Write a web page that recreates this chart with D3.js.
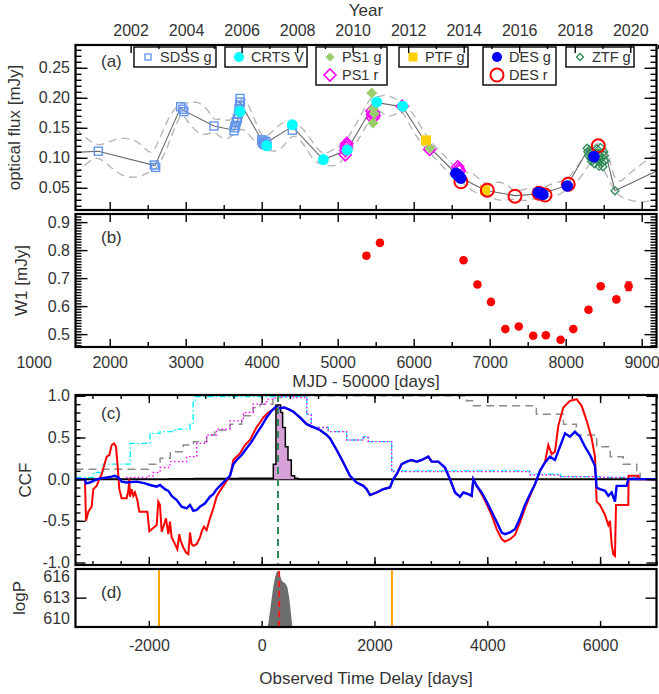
<!DOCTYPE html>
<html>
<head>
<meta charset="utf-8">
<script src="https://cdn.jsdelivr.net/npm/d3@7"></script>
<style>
  body { margin: 0; background: #fff; }
  svg { display: block; }
</style>
</head>
<body>
<svg id="chart" width="659" height="694"></svg>
<script>
// ---------------- data ----------------
// optical light curve, [MJD-50000, flux mJy]
const sdssG = [[1850,0.111],[2587,0.088],[2605,0.084],[2934,0.185],[2962,0.181],[2975,0.177],[3372,0.153],
  [3635,0.145],[3645,0.150],[3655,0.154],[3668,0.160],[3680,0.165],[3695,0.173],[3702,0.182],[3710,0.188],
  [3720,0.193],[3715,0.199],[4000,0.130],[4010,0.126],[4021,0.124],[4030,0.128],[4040,0.122],[4055,0.127],
  [4070,0.121],[4403,0.146]];
const crtsV = [[3715,0.177],[4065,0.120],[4403,0.155],[4811,0.097],[5125,0.113],[5513,0.193],[5855,0.186]];
const ps1G = [[5447,0.208],[5470,0.182],[5480,0.174],[5465,0.158],[5855,0.184],[6214,0.116]];
const ps1R = [[5100,0.105],[5105,0.112],[5110,0.117],[5115,0.121],[5120,0.124],[5450,0.178],[5458,0.172],
  [5462,0.166],[5472,0.175],[5482,0.170],[5850,0.186],[6210,0.114],[6580,0.085],[6590,0.081],[6600,0.078]];
const ptfG = [[6162,0.129],[6938,0.046]];
const desG = [[6555,0.074],[6580,0.071],[6600,0.069],[6620,0.066],[7640,0.042],[7670,0.041],[7700,0.039],
  [8021,0.053],[8372,0.102]];
const desR = [[6622,0.060],[6969,0.046],[7333,0.036],[7650,0.041],[7728,0.038],[8034,0.056],[8429,0.120]];
const ztfG = [[8282,0.116],[8290,0.110],[8300,0.104],[8310,0.113],[8320,0.107],[8330,0.099],[8340,0.094],
  [8350,0.111],[8360,0.103],[8370,0.097],[8380,0.090],[8395,0.108],[8410,0.115],[8420,0.100],[8430,0.094],
  [8440,0.086],[8450,0.104],[8460,0.117],[8470,0.099],[8480,0.092],[8490,0.085],[8500,0.110],[8510,0.104],
  [8520,0.095],[8649,0.045]];

// mean model and its +/- 1 sigma envelope
const modelMean = [[1550,0.109],[1850,0.111],[2596,0.087],[2934,0.184],[2970,0.179],[3372,0.153],[3635,0.146],
  [3690,0.165],[3715,0.192],[4030,0.123],[4403,0.152],[4811,0.097],[5125,0.113],[5480,0.190],[5513,0.192],
  [5855,0.185],[6180,0.121],[6600,0.068],[6938,0.046],[7333,0.037],[7680,0.040],[8021,0.054],[8300,0.115],
  [8520,0.110],[8649,0.045],[9195,0.078]];
const modelUpper = [[1550,0.148],[1700,0.132],[1850,0.118],[2000,0.128],[2200,0.135],[2400,0.127],[2550,0.100],
  [2650,0.130],[2800,0.175],[2934,0.192],[3000,0.190],[3150,0.196],[3300,0.180],[3372,0.160],[3500,0.168],
  [3600,0.155],[3715,0.203],[3800,0.198],[3950,0.150],[4021,0.130],[4150,0.145],[4300,0.163],[4403,0.160],
  [4550,0.150],[4700,0.120],[4811,0.103],[4950,0.115],[5110,0.125],[5300,0.170],[5447,0.205],[5520,0.200],
  [5650,0.207],[5800,0.195],[5855,0.190],[6000,0.175],[6162,0.135],[6350,0.110],[6550,0.085],[6650,0.075],
  [6800,0.076],[6938,0.052],[7100,0.062],[7250,0.055],[7333,0.040],[7500,0.052],[7640,0.045],[7850,0.060],
  [8021,0.060],[8200,0.095],[8350,0.122],[8450,0.125],[8550,0.120],[8649,0.050],[8800,0.070],[9000,0.090],
  [9195,0.107]];
const modelLower = [[1550,0.072],[1700,0.092],[1850,0.104],[2000,0.085],[2200,0.066],[2400,0.068],[2550,0.078],
  [2650,0.085],[2800,0.130],[2934,0.178],[3000,0.165],[3150,0.140],[3300,0.138],[3372,0.146],[3500,0.128],
  [3600,0.135],[3715,0.150],[3800,0.145],[3950,0.120],[4021,0.117],[4150,0.108],[4300,0.118],[4403,0.143],
  [4550,0.125],[4700,0.090],[4811,0.090],[4950,0.083],[5110,0.100],[5300,0.135],[5447,0.170],[5520,0.185],
  [5650,0.165],[5800,0.175],[5855,0.180],[6000,0.140],[6162,0.115],[6350,0.090],[6550,0.062],[6650,0.060],
  [6800,0.040],[6938,0.040],[7100,0.028],[7250,0.030],[7333,0.032],[7500,0.026],[7640,0.036],[7850,0.033],
  [8021,0.047],[8200,0.065],[8350,0.100],[8450,0.090],[8550,0.070],[8649,0.040],[8800,0.030],[9000,0.025],
  [9195,0.030]];

// WISE W1 photometry
const w1Mjd = [5378,5556,6656,6839,7017,7206,7383,7572,7739,7933,8100,8300,8461,8667,8828];
const w1Flux = [0.780,0.826,0.764,0.677,0.615,0.518,0.527,0.494,0.496,0.480,0.518,0.587,0.671,0.624,0.671];
const w1Err = [0.009,0.009,0.008,0.008,0.009,0.008,0.008,0.008,0.007,0.007,0.008,0.009,0.009,0.009,0.015];

// cross-correlation functions, [lag days, CCF]
const blueLeft = [[-3300,0],[-3132,0],[-3114,-0.05],[-3043,-0.04],[-2984,-0.02],[-2866,0.01],[-2747,0.02],
  [-2659,0.03],[-2600,0.04],[-2541,0.02],[-2482,-0.03],[-2393,-0.04],[-2216,-0.03],[-2068,-0.05],[-1979,-0.07],
  [-1861,-0.09],[-1802,-0.07],[-1713,-0.12],[-1654,-0.14],[-1595,-0.20],[-1506,-0.25],[-1418,-0.33],
  [-1329,-0.35],[-1270,-0.31],[-1211,-0.38],[-1152,-0.37],[-1093,-0.33],[-1004,-0.29],[-916,-0.21],
  [-857,-0.18],[-798,-0.12],[-709,-0.06],[-620,0],[-561,0.04],[-502,0.18],[-443,0.23],[-354,0.29],
  [-266,0.37],[-177,0.45],[-88,0.55],[0,0.64],[89,0.74],[177,0.82],[254,0.87]];
const redLeft = [[-3300,0],[-3132,0],[-3114,-0.50],[-3072,-0.39],[-3013,-0.33],[-2984,-0.12],[-2925,-0.08],
  [-2878,0],[-2836,0.06],[-2777,0.20],[-2747,0.27],[-2700,0.29],[-2659,0.41],[-2617,0.43],[-2582,0.39],
  [-2558,0.20],[-2523,-0.12],[-2482,-0.23],[-2393,-0.23],[-2363,-0.14],[-2346,0],[-2334,-0.21],[-2304,-0.12],
  [-2275,-0.20],[-2245,-0.16],[-2204,-0.25],[-2168,-0.39],[-2026,-0.39],[-1991,-0.625],[-1950,-0.60],
  [-1861,-0.55],[-1832,-0.27],[-1802,-0.31],[-1772,-0.63],[-1731,-0.55],[-1696,-0.47],[-1654,-0.66],
  [-1625,-0.51],[-1595,-0.70],[-1536,-0.78],[-1495,-0.84],[-1459,-0.66],[-1436,-0.74],[-1388,-0.82],
  [-1341,-0.88],[-1300,-0.90],[-1270,-0.64],[-1241,-0.78],[-1211,-0.80],[-1152,-0.78],[-1093,-0.70],
  [-1063,-0.63],[-1022,-0.57],[-975,-0.61],[-916,-0.47],[-857,-0.35],[-798,-0.21],[-738,-0.14],[-679,-0.08],
  [-620,-0.02],[-561,0.04],[-502,0.23],[-472,0.25],[-384,0.31],[-295,0.41],[-207,0.47],[-147,0.55],
  [-88,0.625],[-29,0.68],[30,0.74],[118,0.80],[207,0.84],[266,0.86]];
const ccfMid = [[325,0.85],[396,0.86],[473,0.84],[562,0.81],[680,0.74],[798,0.66],[916,0.625],[1034,0.59],
  [1153,0.53],[1212,0.49],[1330,0.35],[1448,0.20],[1566,0.04],[1684,-0.04],[1803,-0.08],[1862,-0.12],
  [1921,-0.19],[2039,-0.16],[2157,-0.12],[2275,-0.10],[2334,0],[2394,0.06],[2482,0.18],[2571,0.21],
  [2659,0.23],[2748,0.21],[2837,0.23],[2955,0.27],[3014,0.21],[3132,0.21],[3250,0.14],[3339,0],
  [3428,-0.16],[3516,-0.21],[3575,-0.16],[3664,-0.18],[3723,-0.20],[3753,0]];
const blueRight = [[3812,-0.08],[3900,-0.16],[3989,-0.27],[4078,-0.39],[4166,-0.51],[4255,-0.64],[4314,-0.66],
  [4403,-0.64],[4491,-0.60],[4580,-0.47],[4668,-0.31],[4757,-0.18],[4846,-0.06],[4934,0.10],[5023,0.20],
  [5112,0.27],[5200,0.23],[5289,0.39],[5378,0.55],[5466,0.51],[5555,0.57],[5644,0.51],[5732,0.39],
  [5821,0.29],[5909,0.16],[5939,-0.10],[5998,-0.12],[6087,-0.14],[6146,-0.20],[6205,-0.16],[6264,-0.27],
  [6293,-0.08],[6471,-0.08],[6500,0],[7000,0]];
const redRight = [[3812,-0.08],[3900,-0.18],[3989,-0.30],[4078,-0.43],[4166,-0.60],[4255,-0.72],[4314,-0.75],
  [4403,-0.72],[4491,-0.67],[4580,-0.52],[4668,-0.35],[4757,-0.20],[4846,-0.06],[4934,0.10],[5023,0.20],
  [5082,0.41],[5141,0.30],[5200,0.33],[5259,0.64],[5348,0.86],[5466,0.94],[5584,0.96],[5673,0.88],
  [5762,0.70],[5850,0.49],[5909,0.27],[5939,-0.27],[5998,-0.31],[6087,-0.43],[6146,-0.55],[6175,-0.50],
  [6205,-0.78],[6234,-0.90],[6264,-0.92],[6282,-0.31],[6500,-0.31],[6506,0.04],[6678,0.04],[6684,0],[7000,0]];

// normalised overlap counts (step curves)
const pairsGray = [[-3300,0.12],[-2010,0.18],[-1800,0.25],[-1620,0.33],[-1390,0.41],[-1210,0.45],[-975,0.53],
  [-830,0.59],[-560,0.66],[-355,0.76],[-150,0.86],[-30,0.90],[200,0.98],[350,1.0],[3630,0.94],[3750,0.88],
  [4870,0.78],[5350,0.66],[5580,0.53],[5940,0.39],[6180,0.27],[6410,0.18],[6650,0.08],[6710,0],[7000,0]];
const pairsCyan = [[-3300,0.02],[-2984,0.08],[-2806,0.18],[-2330,0.43],[-1979,0.55],[-1802,0.57],[-1536,0.60],
  [-1270,0.66],[-1215,0.94],[-1182,0.99],[770,0.98],[798,0.78],[880,0.62],[1182,0.57],[1507,0.47],[1800,0.51],
  [1891,0.45],[2305,0.10],[3500,0.10],[4750,0.06],[5300,0.03],[6000,0.02],[6700,0],[7000,0]];
const pairsMagenta = [[-3300,0],[-2390,0.02],[-2040,0.04],[-1920,0.08],[-1800,0.14],[-1625,0.21],[-1330,0.27],
  [-1150,0.43],[-975,0.53],[-800,0.60],[-560,0.70],[-325,0.80],[-150,0.90],[90,0.96],[236,0.99],[560,0.98],
  [790,0.96],[800,0.78],[880,0.62],[1182,0.57],[1507,0.47],[1800,0.50],[1891,0.45],[2305,0.09],[3500,0.09],
  [4750,0.05],[5300,0.03],[6000,0.02],[6700,0],[7000,0]];

// lag distribution histogram
const histEdges = [-1650,-1200,-800,-400,0,207,254,337,372,420,467,526,585,640];
const histValues = [0.006,0.008,0.008,0.010,0.012,0.18,0.89,0.80,0.62,0.39,0.23,0.04,0.01];
const bestLag = 290;

// posterior log-probability envelope
const logPLag = [110,140,170,200,230,255,285,310,340,370,410,450,480,510,545];
const logPVal = [608.8,610.5,612.4,614.2,615.6,616.4,616.8,616.6,615.8,615.3,615.1,614.6,613.4,611.5,608.8];
const logPMedian = 310;
const priorBounds = [-1820, 2310];

// axis ticks
const fluxTicks = [0.05,0.10,0.15,0.20,0.25];
const w1Ticks = [0.5,0.6,0.7,0.8,0.9];
const ccfTicks = [-1.0,-0.5,0.0,0.5,1.0];
const logPTicks = [610,613,616];
const yearTicks = [2002,2004,2006,2008,2010,2012,2014,2016,2018,2020];
const mjdTicks = [1000,2000,3000,4000,5000,6000,7000,8000,9000];
const lagTicks = [-2000,0,2000,4000,6000];

// ---------------- layout ----------------
const X0 = 75.5, X1 = 656.5;
const PA = {top: 45, bottom: 210};
const PB = {top: 214, bottom: 347};
const PC = {top: 395, bottom: 565};
const PD = {top: 569, bottom: 627};
const FONT = '"Liberation Sans", Arial, Helvetica, sans-serif';
const INK = "#333";
const TICK_FONT = 16, TITLE_FONT = 17;

const xMjd = d3.scaleLinear().domain([1550, 9195]).range([X0, X1]);
const toYear = m => 2000 + (m + 50000 - 51544.5) / 365.25;
const xYear = d3.scaleLinear().domain([toYear(1550), toYear(9195)]).range([X0, X1]);
const xLag = d3.scaleLinear().domain([-3300, 7000]).range([X0, X1]);
const yFlux = d3.scaleLinear().domain([0.013, 0.288]).range([PA.bottom, PA.top]);
const yW1 = d3.scaleLinear().domain([0.454, 0.929]).range([PB.bottom, PB.top]);
const yCcf = d3.scaleLinear().domain([-1.03, 1.01]).range([PC.bottom, PC.top]);
const yLogP = d3.scaleLinear().domain([608.8, 617.1]).range([PD.bottom, PD.top]);

const svg = d3.select("#chart");
const defs = svg.append("defs");
function clipFor(id, p) {
  defs.append("clipPath").attr("id", id).append("rect")
    .attr("x", X0).attr("y", p.top).attr("width", X1 - X0).attr("height", p.bottom - p.top);
  return svg.append("g").attr("clip-path", `url(#${id})`);
}

// tick marks drawn inward from a frame edge
function tickMarks(axis, values, len, tx, ty) {
  const g = svg.append("g").attr("transform", `translate(${tx},${ty})`)
    .call(axis.tickValues(values).tickSize(-len).tickFormat(""));
  g.select(".domain").remove();
  g.selectAll(".tick line").attr("stroke", "#000").attr("stroke-width", 1.4);
}
function tickLabels(axis, values, fmt, pad, tx, ty) {
  const g = svg.append("g").attr("transform", `translate(${tx},${ty})`)
    .call(axis.tickValues(values).tickSize(0).tickPadding(pad).tickFormat(fmt));
  g.select(".domain").remove();
  g.selectAll(".tick line").remove();
  g.selectAll("text").attr("font-family", FONT).attr("font-size", TICK_FONT).attr("fill", INK);
}
function frame(p) {
  svg.append("rect").attr("x", X0).attr("y", p.top).attr("width", X1 - X0).attr("height", p.bottom - p.top)
    .attr("fill", "none").attr("stroke", "#000").attr("stroke-width", 2.2);
}
function text(x, y, s, opts = {}) {
  const t = svg.append("text").attr("x", x).attr("y", y).text(s)
    .attr("font-family", FONT).attr("font-size", opts.size || TITLE_FONT).attr("fill", INK)
    .attr("text-anchor", opts.anchor || "middle");
  if (opts.rotate) t.attr("transform", `rotate(-90,${x},${y})`);
  return t;
}
const inRange = (vals, s) => vals.filter(v => v >= s.domain()[0] && v <= s.domain()[1]);
const step = (a, b, d) => d3.range(a, b + d / 2, d).map(v => +v.toFixed(6));

// ---------------- panel (a): optical light curve ----------------
const ga = clipFor("clipA", PA);
const lineA = d3.line().x(d => xMjd(d[0])).y(d => yFlux(d[1]));
const smoothA = d3.line().x(d => xMjd(d[0])).y(d => yFlux(d[1])).curve(d3.curveBasis);
[modelUpper, modelLower].forEach(arr => ga.append("path").attr("d", smoothA(arr))
  .attr("fill", "none").attr("stroke", "#b4b4b4").attr("stroke-width", 1.3).attr("stroke-dasharray", "8,5"));
ga.append("path").attr("d", lineA(modelMean)).attr("fill", "none").attr("stroke", "#666").attr("stroke-width", 1.1);

const diamond = s => `M0,${-s}L${s},0L0,${s}L${-s},0Z`;
function markers(g, data, xs, ys, draw) {
  data.forEach(d => draw(g.append("g").attr("transform", `translate(${xs(d[0])},${ys(d[1])})`)));
}
const SYM = {
  sdss: g => g.append("rect").attr("x", -4).attr("y", -4).attr("width", 8).attr("height", 8)
    .attr("fill", "none").attr("stroke", "#6495ed").attr("stroke-width", 1.4),
  crts: g => g.append("circle").attr("r", 5.5).attr("fill", "#00ffff"),
  ps1g: g => g.append("path").attr("d", diamond(5.5)).attr("fill", "#9acd6e"),
  ps1r: g => g.append("path").attr("d", diamond(6)).attr("fill", "none").attr("stroke", "#ff00ff").attr("stroke-width", 1.6),
  ptf: g => g.append("rect").attr("x", -5).attr("y", -5).attr("width", 10).attr("height", 10).attr("fill", "#ffd000"),
  desg: g => g.append("circle").attr("r", 5.8).attr("fill", "#0000ff"),
  desr: g => g.append("circle").attr("r", 6.5).attr("fill", "none").attr("stroke", "#ff0000").attr("stroke-width", 2),
  ztf: g => g.append("path").attr("d", diamond(4)).attr("fill", "none").attr("stroke", "#2e8b57").attr("stroke-width", 1.3),
};
markers(ga, sdssG, xMjd, yFlux, SYM.sdss);
markers(ga, ps1R, xMjd, yFlux, SYM.ps1r);
markers(ga, ps1G, xMjd, yFlux, SYM.ps1g);
markers(ga, crtsV, xMjd, yFlux, SYM.crts);
markers(ga, ztfG, xMjd, yFlux, SYM.ztf);
markers(ga, ptfG, xMjd, yFlux, SYM.ptf);
markers(ga, desR, xMjd, yFlux, SYM.desr);
markers(ga, desG, xMjd, yFlux, SYM.desg);

// legend boxes
const legendBoxes = [
  {x: 134, w: 82, rows: [["SDSS g", "sdss"]]},
  {x: 225, w: 82, rows: [["CRTS V", "crts"]]},
  {x: 316, w: 71, rows: [["PS1 g", "ps1g"], ["PS1 r", "ps1r"]]},
  {x: 399, w: 69, rows: [["PTF g", "ptf"]]},
  {x: 483, w: 73, rows: [["DES g", "desg"], ["DES r", "desr"]]},
  {x: 566, w: 68, rows: [["ZTF g", "ztf"]]},
];
legendBoxes.forEach(b => {
  const h = b.rows.length === 1 ? 20 : 38;
  svg.append("rect").attr("x", b.x).attr("y", 47).attr("width", b.w).attr("height", h)
    .attr("fill", "#fff").attr("stroke", "#000").attr("stroke-width", 1.4);
  b.rows.forEach((r, i) => {
    const cy = 57 + i * 18;
    const g = svg.append("g").attr("transform", `translate(${b.x + 14},${cy})`);
    SYM[r[1]](g);
    if (r[1] === "sdss") g.select("rect").attr("x", -3).attr("y", -3).attr("width", 6).attr("height", 6);
    if (r[1] === "crts" || r[1] === "desg") g.select("circle").attr("r", 5);
    if (r[1] === "ps1g") g.select("path").attr("d", diamond(4.5));
    if (r[1] === "ztf") g.select("path").attr("d", diamond(3.5));
    if (r[1] === "ptf") g.select("rect").attr("x", -4.5).attr("y", -4.5).attr("width", 9).attr("height", 9);
    text(b.x + 26, cy + 5.2, r[0], {anchor: "start", size: 14.5});
  });
});

frame(PA);
tickMarks(d3.axisLeft(yFlux), fluxTicks, 12, X0, 0);
tickMarks(d3.axisLeft(yFlux), inRange(step(0.02, 0.28, 0.01), yFlux), 6, X0, 0);
tickMarks(d3.axisRight(yFlux), fluxTicks, 12, X1, 0);
tickMarks(d3.axisRight(yFlux), inRange(step(0.02, 0.28, 0.01), yFlux), 6, X1, 0);
tickMarks(d3.axisTop(xYear), yearTicks, 8, 0, PA.top);
tickMarks(d3.axisTop(xYear), [2003,2005,2007,2009,2011,2013,2015,2017,2019,2021], 4, 0, PA.top);
tickMarks(d3.axisBottom(xMjd), inRange(mjdTicks, xMjd), 8, 0, PA.bottom);
tickMarks(d3.axisBottom(xMjd), inRange(step(1500, 9000, 1000), xMjd), 5, 0, PA.bottom);
tickLabels(d3.axisLeft(yFlux), fluxTicks, d3.format(".2f"), 5.5, X0, 0);
tickLabels(d3.axisTop(xYear), yearTicks, d => String(d), 9.5, 0, PA.top);
text(366, 15.5, "Year");
text(20, 127.5, "optical flux [mJy]", {rotate: true});
text(101, 67, "(a)", {anchor: "start"});

// ---------------- panel (b): W1 ----------------
const gb = clipFor("clipB", PB);
w1Mjd.forEach((m, i) => {
  const x = xMjd(m), y0 = yW1(w1Flux[i] - w1Err[i]), y1 = yW1(w1Flux[i] + w1Err[i]);
  gb.append("line").attr("x1", x).attr("x2", x).attr("y1", y0).attr("y2", y1).attr("stroke", "#ff0000").attr("stroke-width", 1.5);
  [y0, y1].forEach(yy => gb.append("line").attr("x1", x - 3).attr("x2", x + 3).attr("y1", yy).attr("y2", yy)
    .attr("stroke", "#ff0000").attr("stroke-width", 1.5));
  gb.append("circle").attr("cx", x).attr("cy", yW1(w1Flux[i])).attr("r", 4.3).attr("fill", "#ff0000");
});
frame(PB);
tickMarks(d3.axisLeft(yW1), w1Ticks, 12, X0, 0);
tickMarks(d3.axisLeft(yW1), inRange(step(0.46, 0.92, 0.01), yW1), 6, X0, 0);
tickMarks(d3.axisRight(yW1), w1Ticks, 12, X1, 0);
tickMarks(d3.axisRight(yW1), inRange(step(0.46, 0.92, 0.01), yW1), 6, X1, 0);
tickMarks(d3.axisTop(xMjd), inRange(mjdTicks, xMjd), 8, 0, PB.top);
tickMarks(d3.axisTop(xMjd), inRange(step(1500, 9000, 1000), xMjd), 5, 0, PB.top);
tickMarks(d3.axisBottom(xMjd), inRange(mjdTicks, xMjd), 8, 0, PB.bottom);
tickMarks(d3.axisBottom(xMjd), inRange(step(1500, 9000, 1000), xMjd), 5, 0, PB.bottom);
tickLabels(d3.axisLeft(yW1), w1Ticks, d3.format(".1f"), 5.5, X0, 0);
tickLabels(d3.axisBottom(xMjd), mjdTicks, d => String(d), 9.4, 0, PB.bottom);
text(366, 387, "MJD - 50000 [days]");
text(27, 280.5, "W1 [mJy]", {rotate: true});
text(101, 243, "(b)", {anchor: "start"});

// ---------------- panel (c): CCF ----------------
const gc = clipFor("clipC", PC);
const stepLine = d3.line().x(d => xLag(d[0])).y(d => yCcf(d[1])).curve(d3.curveStepAfter);
const ccfLine = d3.line().x(d => xLag(d[0])).y(d => yCcf(d[1]));
gc.append("path").attr("d", stepLine(pairsGray)).attr("fill", "none").attr("stroke", "#8c8c8c")
  .attr("stroke-width", 1.5).attr("stroke-dasharray", "8,5");
gc.append("path").attr("d", stepLine(pairsCyan)).attr("fill", "none").attr("stroke", "#00f0ff")
  .attr("stroke-width", 1.4).attr("stroke-dasharray", "6,2.5,1.5,2.5");
gc.append("path").attr("d", stepLine(pairsMagenta)).attr("fill", "none").attr("stroke", "#ff00ff")
  .attr("stroke-width", 1.4).attr("stroke-dasharray", "1.5,2.5");
gc.append("line").attr("x1", X0).attr("x2", X1).attr("y1", yCcf(0)).attr("y2", yCcf(0))
  .attr("stroke", "#000").attr("stroke-width", 2);
const histPts = histValues.map((v, i) => [histEdges[i], v]).concat([[histEdges[histEdges.length - 1], 0]]);
const histArea = d3.area().x(d => xLag(d[0])).y0(yCcf(0)).y1(d => yCcf(d[1])).curve(d3.curveStepAfter);
gc.append("path").attr("d", histArea(histPts)).attr("fill", "#d8a0d8");
gc.append("path").attr("d", stepLine(histPts)).attr("fill", "none").attr("stroke", "#000").attr("stroke-width", 1.5);
gc.append("path").attr("d", ccfLine(redLeft.concat(ccfMid, redRight))).attr("fill", "none")
  .attr("stroke", "#ff0000").attr("stroke-width", 2);
gc.append("path").attr("d", ccfLine(blueLeft.concat(ccfMid, blueRight))).attr("fill", "none")
  .attr("stroke", "#0000ff").attr("stroke-width", 2.4);
gc.append("line").attr("x1", xLag(bestLag)).attr("x2", xLag(bestLag)).attr("y1", PC.top).attr("y2", PC.bottom)
  .attr("stroke", "#2e8b57").attr("stroke-width", 2).attr("stroke-dasharray", "7,5");
frame(PC);
tickMarks(d3.axisLeft(yCcf), ccfTicks, 10, X0, 0);
tickMarks(d3.axisLeft(yCcf), step(-0.9, 0.9, 0.1), 5, X0, 0);
tickMarks(d3.axisRight(yCcf), ccfTicks, 10, X1, 0);
tickMarks(d3.axisRight(yCcf), step(-0.9, 0.9, 0.1), 5, X1, 0);
tickMarks(d3.axisBottom(xLag), lagTicks, 8, 0, PC.bottom);
tickMarks(d3.axisBottom(xLag), inRange(step(-3000, 7000, 500), xLag), 4, 0, PC.bottom);
tickMarks(d3.axisTop(xLag), lagTicks, 8, 0, PC.top);
tickMarks(d3.axisTop(xLag), inRange(step(-3000, 7000, 500), xLag), 4, 0, PC.top);
tickLabels(d3.axisLeft(yCcf), ccfTicks, d => d.toFixed(1), 5.5, X0, 0);
text(31, 480, "CCF", {rotate: true});
text(101, 419, "(c)", {anchor: "start"});

// ---------------- panel (d): log posterior ----------------
const gd = clipFor("clipD", PD);
const logPArea = d3.area().x((d, i) => xLag(logPLag[i])).y0(PD.bottom).y1(d => yLogP(d)).curve(d3.curveCatmullRom);
gd.append("path").attr("d", logPArea(logPVal)).attr("fill", "#6e6e6e");
priorBounds.forEach(b => gd.append("line").attr("x1", xLag(b)).attr("x2", xLag(b)).attr("y1", PD.top).attr("y2", PD.bottom)
  .attr("stroke", "#ffa500").attr("stroke-width", 2));
gd.append("line").attr("x1", xLag(logPMedian)).attr("x2", xLag(logPMedian)).attr("y1", PD.top + 2).attr("y2", PD.bottom)
  .attr("stroke", "#ff1a1a").attr("stroke-width", 2).attr("stroke-dasharray", "6,4");
frame(PD);
tickMarks(d3.axisLeft(yLogP), [613], 11, X0, 0);
tickMarks(d3.axisRight(yLogP), [613], 11, X1, 0);
tickMarks(d3.axisBottom(xLag), lagTicks, 6, 0, PD.bottom);
tickLabels(d3.axisLeft(yLogP), logPTicks, d => String(d), 5.5, X0, 0);
tickLabels(d3.axisBottom(xLag), lagTicks, d => String(d), 12.4, 0, PD.bottom);
text(366, 684, "Observed Time Delay [days]");
text(25, 598, "logP", {rotate: true});
text(101, 598, "(d)", {anchor: "start"});
</script>
</body>
</html>
